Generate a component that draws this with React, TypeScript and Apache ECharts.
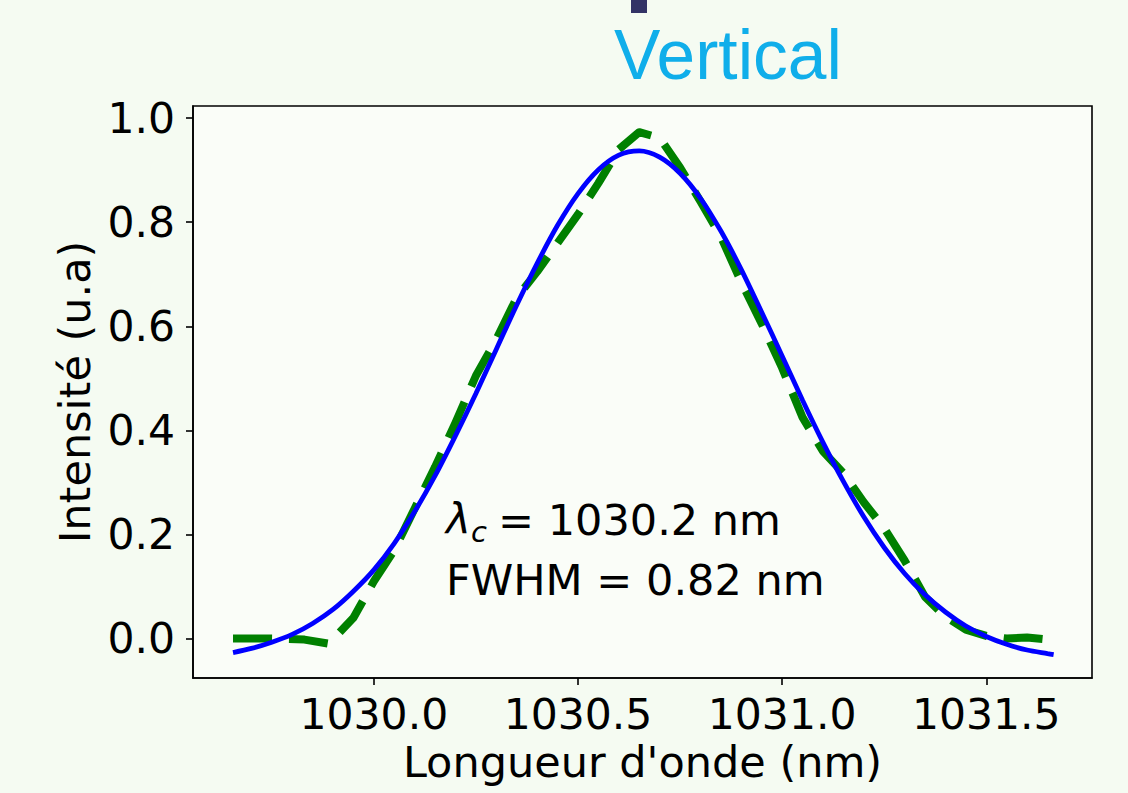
import React, { useEffect, useRef } from "react";
import * as echarts from "echarts";

// ---- Data ----
const xTicks = [1030.0, 1030.5, 1031.0, 1031.5];
const yTicks = [0.0, 0.2, 0.4, 0.6, 0.8, 1.0];

// Measured spectrum (green dashed)
const measWavelength = [
  1029.655, 1029.75, 1029.83, 1029.89, 1029.95, 1030.0, 1030.05, 1030.1, 1030.15, 1030.2,
  1030.25, 1030.3, 1030.35, 1030.4, 1030.45, 1030.5, 1030.55, 1030.6, 1030.65, 1030.7,
  1030.75, 1030.8, 1030.85, 1030.9, 1030.95, 1031.0, 1031.05, 1031.1, 1031.15, 1031.2,
  1031.25, 1031.3, 1031.35, 1031.4, 1031.45, 1031.5, 1031.55, 1031.6, 1031.665,
];
const measIntensity = [
  0.0, 0.0, -0.002, -0.01, 0.04, 0.11, 0.17, 0.25, 0.33, 0.415,
  0.505, 0.575, 0.655, 0.705, 0.76, 0.815, 0.875, 0.94, 0.973, 0.962,
  0.905, 0.84, 0.772, 0.685, 0.605, 0.52, 0.425, 0.36, 0.318, 0.262,
  0.212, 0.15, 0.08, 0.042, 0.017, 0.005, 0.0, 0.002, -0.003,
];

// Gaussian fit (blue solid)
const fitWavelength = [
  1029.655, 1029.7, 1029.75, 1029.8, 1029.85, 1029.9, 1029.95, 1030.0, 1030.05, 1030.1,
  1030.15, 1030.2, 1030.25, 1030.3, 1030.35, 1030.4, 1030.45, 1030.5, 1030.55, 1030.6,
  1030.65, 1030.7, 1030.75, 1030.8, 1030.85, 1030.9, 1030.95, 1031.0, 1031.05, 1031.1,
  1031.15, 1031.2, 1031.25, 1031.3, 1031.35, 1031.4, 1031.45, 1031.5, 1031.55, 1031.6,
  1031.65, 1031.665,
];
const fitIntensity = [
  -0.027, -0.019, -0.007, 0.008, 0.029, 0.056, 0.091, 0.132, 0.183, 0.244,
  0.313, 0.39, 0.471, 0.556, 0.641, 0.721, 0.794, 0.855, 0.901, 0.929,
  0.937, 0.925, 0.894, 0.846, 0.783, 0.709, 0.627, 0.543, 0.458, 0.377,
  0.302, 0.234, 0.175, 0.125, 0.084, 0.051, 0.024, 0.004, -0.011, -0.022,
  -0.029, -0.031,
];

const X_MIN = 1029.557;
const X_MAX = 1031.759;
const Y_MIN = -0.0758;
const Y_MAX = 1.0233;

const title = "Vertical";
const xName = "Longueur d'onde (nm)";
const yName = "Intensité (u.a)";
const fwhmText = "FWHM = 0.82 nm";
const lambdaValue = "= 1030.2 nm";

const FONT = "DejaVu Sans";

export default function App() {
  const ref = useRef<HTMLDivElement>(null);

  useEffect(() => {
    if (!ref.current) return;
    const chart = echarts.init(ref.current, null, { renderer: "svg" });
    const measData = measWavelength.map((x, i) => [x, measIntensity[i]]);
    const fitData = fitWavelength.map((x, i) => [x, fitIntensity[i]]);

    const option: any = {
      animation: false,
      backgroundColor: "#f5fbf2",
      grid: {
        left: 193,
        top: 106,
        width: 899,
        height: 572,
        show: true,
        backgroundColor: "#fafdf8",
        borderColor: "#000",
        borderWidth: 1.6,
      },
      xAxis: {
        type: "value",
        min: X_MIN,
        max: X_MAX,
        axisLine: { show: true, onZero: false, lineStyle: { color: "#000", width: 1.6 } },
        axisTick: { show: true, length: 7, customValues: xTicks, lineStyle: { color: "#000", width: 1.6 } },
        axisLabel: {
          customValues: xTicks,
          formatter: (v: number) => Number(v).toFixed(1),
          fontFamily: FONT,
          fontSize: 42.5,
          color: "#000",
          margin: 36,
          verticalAlign: "middle",
        },
        splitLine: { show: false },
        name: xName,
        nameLocation: "middle",
        nameGap: 80,
        nameTextStyle: { fontFamily: FONT, fontSize: 43, color: "#000", verticalAlign: "middle" },
      },
      yAxis: {
        type: "value",
        min: Y_MIN,
        max: Y_MAX,
        axisLine: { show: true, onZero: false, lineStyle: { color: "#000", width: 1.6 } },
        axisTick: { show: true, length: 7, customValues: yTicks, lineStyle: { color: "#000", width: 1.6 } },
        axisLabel: {
          customValues: yTicks,
          formatter: (v: number) => Number(v).toFixed(1),
          fontFamily: FONT,
          fontSize: 42.5,
          color: "#000",
          margin: 18,
        },
        splitLine: { show: false },
        name: yName,
        nameLocation: "middle",
        nameGap: 117,
        nameTextStyle: { fontFamily: FONT, fontSize: 43, color: "#000", verticalAlign: "middle" },
      },
      series: [
        {
          type: "line",
          data: measData,
          showSymbol: false,
          symbol: "none",
          lineStyle: { color: "#008000", width: 8, type: [39, 17], cap: "butt", join: "round" },
          z: 2,
        },
        {
          type: "line",
          data: fitData,
          showSymbol: false,
          symbol: "none",
          smooth: 0.3,
          lineStyle: { color: "#0000ff", width: 4.8, type: "solid" },
          z: 3,
        },
      ],
      graphic: [
        {
          type: "rect",
          shape: { x: 631, y: 0, width: 16, height: 13 },
          style: { fill: "#333366" },
        },
        {
          type: "text",
          x: 614,
          y: 54.5,
          style: {
            text: title,
            fill: "#10aeea",
            font: '69.5px "Liberation Sans"',
            verticalAlign: "middle",
            align: "left",
          },
        },
        {
          type: "text",
          x: 446,
          y: 519,
          style: { text: "λ", fill: "#000", font: 'italic 42px "DejaVu Sans"', verticalAlign: "middle", align: "left" },
        },
        {
          type: "text",
          x: 471,
          y: 532,
          style: { text: "c", fill: "#000", font: 'italic 29px "DejaVu Sans"', verticalAlign: "middle", align: "left" },
        },
        {
          type: "text",
          x: 498,
          y: 520,
          style: { text: lambdaValue, fill: "#000", font: '43px "DejaVu Sans"', verticalAlign: "middle", align: "left" },
        },
        {
          type: "text",
          x: 446,
          y: 580,
          style: { text: fwhmText, fill: "#000", font: '43px "DejaVu Sans"', verticalAlign: "middle", align: "left" },
        },
      ],
    };
    chart.setOption(option);
    return () => chart.dispose();
  }, []);

  return (
    <div
      ref={ref}
      style={{ position: "fixed", left: 0, top: 0, width: 1128, height: 793 }}
    />
  );
}
